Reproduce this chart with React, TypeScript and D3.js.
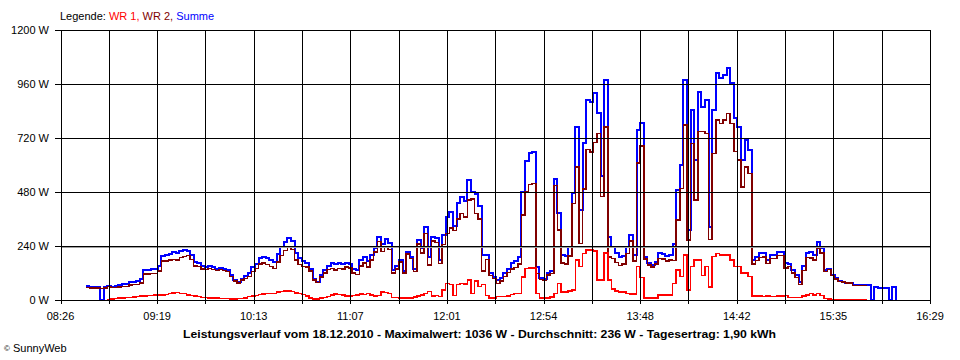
import React from "react";
import * as d3 from "d3";

// ---- data ----
const startMinute = 520; // 08:40, minutes of day
const stepMinutes = 2;
const xDomain = [506, 989]; // 08:26 .. 16:29
const xTickLabels = ["08:26", "09:19", "10:13", "11:07", "12:01", "12:54", "13:48", "14:42", "15:35", "16:29"];
const yTicks = [0, 240, 480, 720, 960, 1200];
const average = 236;

const summe: number[] = [
  62,60,60,60,0,60,62,60,62,65,
  70,72,78,82,85,92,133,135,138,140,
  150,195,198,205,212,210,218,222,220,200,
  170,165,150,148,150,145,140,142,138,133,
  110,89,81,95,105,120,145,160,185,192,
  185,178,170,205,235,260,274,262,210,185,
  175,165,140,95,81,110,133,150,163,160,
  165,160,165,160,140,135,178,190,175,200,
  231,281,250,270,255,133,150,178,130,215,
  193,140,267,230,326,193,281,275,178,290,
  370,390,330,430,459,440,533,480,470,420,
  200,200,118,104,89,100,120,140,163,175,
  190,480,620,655,660,148,100,95,120,130,
  540,385,200,195,235,474,770,400,700,890,
  880,918,830,550,978,281,235,207,190,195,
  237,289,200,756,785,193,165,155,170,207,
  205,195,200,250,489,600,978,311,844,622,
  926,860,889,326,844,1007,985,1000,1030,963,
  808,770,622,711,667,178,193,207,207,180,
  200,200,215,215,163,160,133,111,81,150,
  210,215,200,259,230,133,140,111,96,85,
  81,77,77,67,67,67,67,67,0,60,
  55,52,55,0,60,0,
];

const wr1: (number | null)[] = [
  null,null,null,null,null,null,3,5,6,8,
  10,12,12,14,15,17,18,20,20,22,
  22,22,25,28,32,33,30,28,22,20,
  18,15,12,12,10,10,8,7,7,6,
  5,5,6,7,10,15,18,20,25,27,
  28,30,30,35,38,40,41,38,32,28,
  25,18,10,5,4,8,12,15,22,27,
  25,22,18,18,20,22,27,25,28,22,
  18,20,35,33,30,12,12,9,9,10,
  9,14,18,22,30,37,18,20,15,44,
  74,70,20,70,74,72,89,30,85,60,
  70,20,9,9,15,15,15,18,25,30,
  30,102,140,142,142,30,9,9,9,13,
  30,74,36,36,40,44,178,148,207,222,
  222,218,89,89,210,89,50,40,36,36,
  30,27,27,148,100,10,9,9,9,22,
  22,22,22,74,133,104,200,44,148,178,
  178,110,150,58,193,207,200,200,200,178,
  148,148,120,120,104,18,18,18,16,18,
  15,15,18,18,20,12,12,12,12,18,
  22,28,22,30,20,7,4,2,2,2,
  2,2,2,2,2,2,2,2,null,null,
  null,null,null,null,null,null,
];

const wr2: (number | null)[] = [
  56,54,54,54,52,54,59,55,56,57,
  60,60,66,68,70,75,115,115,118,118,
  128,173,173,177,180,177,188,194,198,180,
  152,150,138,136,140,135,132,135,131,127,
  105,84,75,88,95,105,127,140,160,165,
  157,148,140,170,197,220,233,224,178,157,
  150,147,130,90,77,102,121,135,141,133,
  140,138,147,142,120,113,151,165,147,178,
  213,261,215,237,225,121,138,169,121,205,
  184,126,249,208,296,156,263,255,163,246,
  296,320,310,360,385,368,444,450,385,360,
  130,180,109,95,74,85,105,122,138,145,
  160,378,480,513,518,118,91,86,111,117,
  510,311,164,159,195,430,592,252,493,668,
  658,700,741,461,768,192,185,167,154,159,
  207,262,173,608,685,183,156,146,161,185,
  183,173,178,176,356,496,778,267,696,444,
  748,750,739,268,651,800,785,800,830,785,
  660,622,502,591,563,160,175,189,191,162,
  185,185,197,197,143,148,121,99,69,132,
  188,187,178,229,210,126,136,109,94,83,
  79,75,75,65,65,65,65,65,null,null,
  null,null,null,null,null,null,
];

const legendItems = [
  { label: "WR 1,", color: "#ff0000" },
  { label: "WR 2,", color: "#800000" },
  { label: "Summe", color: "#0000ff" },
];
const title = "Leistungsverlauf vom 18.12.2010 - Maximalwert: 1036 W - Durchschnitt: 236 W - Tagesertrag: 1,90 kWh";

// ---- layout ----
const W = 960, H = 360;
const left = 60.5, right = 930, top = 30, bottom = 300;
const FONT = "'Liberation Sans', Arial, sans-serif";

export default function App() {
  const x = d3.scaleLinear().domain(xDomain).range([left, right]);
  const y = d3.scaleLinear().domain([0, 1200]).range([bottom, top]);
  const gridCount = 18;
  const gridX = d3.range(gridCount + 1).map((k) => xDomain[0] + (k * (xDomain[1] - xDomain[0])) / gridCount);

  const line = d3
    .line<number | null>()
    .defined((v) => v != null)
    .x((_, i) => x(startMinute + i * stepMinutes))
    .y((v) => y(v as number))
    .curve(d3.curveStepAfter);

  const series = [
    { data: summe as (number | null)[], color: "#0000ff", w: 2 },
    { data: wr2, color: "#800000", w: 1.5 },
    { data: wr1, color: "#ff0000", w: 1.5 },
  ];

  const px = (v: number) => Math.round(v) + 0.5;

  return (
    <svg width={W} height={H} style={{ position: "absolute", left: 0, top: 0, background: "#fff" }} fontFamily={FONT}>
      <rect x={0} y={0} width={W} height={H} fill="#fff" />
      {series.map((s, i) => (
        <path key={i} d={line(s.data) || ""} fill="none" stroke={s.color} strokeWidth={s.w} shapeRendering="crispEdges" />
      ))}
      <line x1={left} x2={right} y1={px(y(average))} y2={px(y(average))} stroke="#a0a0a0" strokeWidth={1} shapeRendering="crispEdges" />
      {yTicks.map((v) => (
        <g key={v}>
          <line x1={55} x2={right} y1={px(y(v))} y2={px(y(v))} stroke="#000" strokeWidth={1} shapeRendering="crispEdges" />
          <text x={49} y={y(v) + 4} textAnchor="end" fontSize={11} fill="#000">{`${v} W`}</text>
        </g>
      ))}
      {gridX.map((t, k) => (
        <g key={k}>
          <line x1={px(x(t))} x2={px(x(t))} y1={top} y2={bottom + 4} stroke="#000" strokeWidth={1} shapeRendering="crispEdges" />
          {k % 2 === 0 && (
            <text x={x(t)} y={320} textAnchor="middle" fontSize={11} fill="#000">{xTickLabels[k / 2]}</text>
          )}
        </g>
      ))}
      <text x={60} y={20} fontSize={11} fill="#000">
        Legende:{" "}
        {legendItems.map((it, i) => (
          <tspan key={i} fill={it.color}>{it.label + (i < legendItems.length - 1 ? " " : "")}</tspan>
        ))}
      </text>
      <text x={183} y={338} fontSize={11} fontWeight="bold" fill="#000" textLength={593} lengthAdjust="spacingAndGlyphs">{title}</text>
      <text x={4} y={352} fontSize={11} fill="#000">
        <tspan fontSize={8} dy={-1}>©</tspan>
        <tspan dy={1}> SunnyWeb</tspan>
      </text>
    </svg>
  );
}
